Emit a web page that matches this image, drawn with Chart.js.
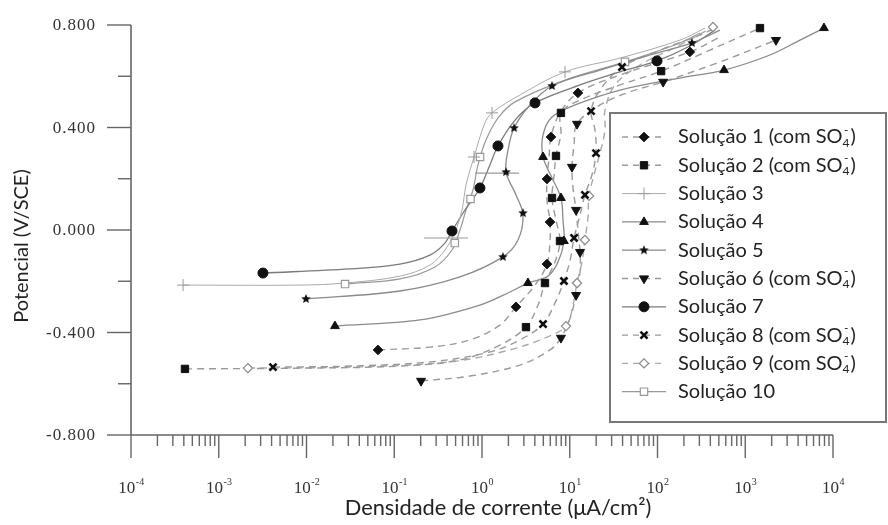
<!DOCTYPE html>
<html>
<head>
<meta charset="utf-8">
<script src="https://cdn.jsdelivr.net/npm/chart.js@4.4.1/dist/chart.umd.min.js"></script>
<style>
  html, body { margin: 0; padding: 0; background: #fff; }
  #wrap { width: 888px; height: 525px; }
</style>
</head>
<body>
<div id="wrap"><canvas id="chart" width="888" height="525"></canvas></div>
<script>
// ------------------------------------------------------------
//  Data  (current density in uA/cm2, potential in V/SCE)
// ------------------------------------------------------------
var X_MIN = 1e-4, X_MAX = 1e4;
var Y_MIN = -0.8, Y_MAX = 0.8;
var yMajorTicks = [0.8, 0.4, 0, -0.4, -0.8];
var yMinorTicks = [0.6, 0.2, -0.2, -0.6];
var xDecades = [-4, -3, -2, -1, 0, 1, 2, 3, 4];

var legendNames = ['Solução 1', 'Solução 2', 'Solução 3', 'Solução 4', 'Solução 5',
                   'Solução 6', 'Solução 7', 'Solução 8', 'Solução 9', 'Solução 10'];
var legendSO4 = [true, true, false, false, false, true, false, true, true, false];

var sol1 = [[0.0653,-0.468],[0.255,-0.457],[0.729,-0.429],[1.60,-0.371],[2.44,-0.300],[4.02,-0.215],
            [5.50,-0.133],[5.96,-0.039],[5.96,0.031],[5.50,0.117],[5.50,0.199],[5.80,0.281],[6.11,0.363],
            [7.74,0.457],[12.4,0.535],[37.4,0.605],[234,0.695],[489,0.749]];
var sol1Marks = [[0.0653,-0.468],[2.44,-0.300],[5.50,-0.133],[5.96,0.031],[5.50,0.199],[6.11,0.363],
                 [12.4,0.535],[234,0.695]];

var sol2 = [[4.12e-4,-0.542],[8.4e-3,-0.539],[0.116,-0.531],[0.561,-0.507],[1.60,-0.449],[3.17,-0.379],
            [4.35,-0.293],[5.22,-0.207],[6.79,-0.125],[7.74,-0.043],[6.97,0.039],[6.28,0.125],[6.62,0.211],
            [6.97,0.289],[7.94,0.375],[7.94,0.457],[13.1,0.507],[37.4,0.566],[110,0.620],[396,0.702],[1472,0.788]];
var sol2Marks = [[4.12e-4,-0.542],[3.17,-0.379],[5.22,-0.207],[7.74,-0.043],[6.28,0.125],[6.97,0.289],
                 [7.94,0.457],[110,0.620],[1472,0.788]];

var sol3 = [[3.92e-4,-0.215],[8.4e-3,-0.215],[0.0275,-0.207],[0.116,-0.180],[0.255,-0.137],[0.378,-0.078],
            [0.492,-0.008],[0.592,0.078],[0.658,0.176],[0.811,0.285],[1.08,0.418],[1.30,0.457],[2.71,0.527],
            [8.83,0.617],[37.4,0.671],[180,0.741],[348,0.788]];
var sol3Marks = [[3.92e-4,-0.215],[0.811,0.285],[1.30,0.457],[8.83,0.617]];
var sol3Bars = [[0.389,-0.031],[1.48,0.222]];

var sol4 = [[0.0211,-0.375],[0.196,-0.351],[0.948,-0.293],[2.08,-0.242],[3.34,-0.207],[5.65,-0.180],
            [7.35,-0.125],[8.59,-0.043],[8.37,0.039],[7.94,0.125],[6.28,0.203],[4.96,0.285],[4.96,0.371],
            [6.28,0.441],[11.5,0.488],[37.4,0.546],[180,0.593],[573,0.624],[1914,0.683],[4207,0.741],[7890,0.788]];
var sol4Marks = [[0.0211,-0.375],[3.34,-0.207],[8.59,-0.043],[7.94,0.125],[4.96,0.285],[573,0.624],[7890,0.788]];

var sol5 = [[9.86e-3,-0.269],[0.116,-0.238],[0.561,-0.183],[1.73,-0.105],[2.57,-0.039],[2.93,0.059],
            [2.44,0.137],[1.88,0.226],[1.98,0.312],[2.32,0.398],[3.52,0.488],[6.28,0.562],[22.1,0.624],
            [82.2,0.683],[247,0.730],[515,0.780]];
var sol5Marks = [[9.86e-3,-0.269],[1.73,-0.105],[2.93,0.066],[1.88,0.226],[2.32,0.398],[6.28,0.562],[247,0.730]];

var sol6 = [[0.202,-0.589],[0.729,-0.570],[2.71,-0.527],[5.96,-0.468],[7.94,-0.421],[10.1,-0.343],
            [11.8,-0.254],[13.1,-0.164],[13.1,-0.086],[12.4,0.000],[11.8,0.078],[10.9,0.164],[10.6,0.246],
            [11.2,0.332],[12.1,0.414],[22.1,0.488],[48.6,0.539],[116,0.578],[515,0.656],[2240,0.741]];
var sol6Marks = [[0.202,-0.589],[7.94,-0.421],[11.8,-0.254],[13.1,-0.086],[11.8,0.078],[10.6,0.246],
                 [12.1,0.414],[116,0.578],[2240,0.741]];

var sol7 = [[3.19e-3,-0.168],[0.0313,-0.152],[0.116,-0.133],[0.255,-0.098],[0.378,-0.051],[0.455,-0.004],
            [0.640,0.078],[0.948,0.164],[1.23,0.254],[1.52,0.328],[2.38,0.429],[4.02,0.496],[13.1,0.566],
            [37.4,0.617],[98.6,0.660],[234,0.718],[452,0.780]];
var sol7Marks = [[3.19e-3,-0.168],[0.455,-0.004],[0.948,0.164],[1.52,0.328],[4.02,0.496],[98.6,0.660]];

var sol8 = [[4.15e-3,-0.535],[0.0313,-0.531],[0.255,-0.515],[1.23,-0.476],[2.71,-0.429],[4.96,-0.367],
            [6.79,-0.285],[8.59,-0.199],[10.1,-0.117],[11.2,-0.031],[13.1,0.059],[14.9,0.137],[17.9,0.215],
            [19.9,0.300],[19.4,0.390],[17.5,0.464],[22.1,0.546],[39.4,0.636],[107,0.702],[305,0.761],[452,0.788]];
var sol8Marks = [[4.15e-3,-0.535],[4.96,-0.367],[8.59,-0.199],[11.2,-0.031],[14.9,0.137],[19.9,0.300],
                 [17.5,0.464],[39.4,0.636]];

var sol9 = [[2.15e-3,-0.539],[0.0313,-0.535],[0.431,-0.515],[2.08,-0.468],[5.22,-0.421],[9.06,-0.375],
            [10.9,-0.293],[12.1,-0.207],[13.8,-0.125],[14.9,-0.039],[16.1,0.047],[16.6,0.133],[18.9,0.215],
            [22.1,0.300],[25.2,0.390],[25.2,0.468],[32.8,0.566],[63.2,0.644],[180,0.722],[429,0.792]];
var sol9Marks = [[2.15e-3,-0.539],[9.06,-0.375],[12.1,-0.207],[14.9,-0.039],[16.6,0.133],[429,0.792]];

var sol10 = [[0.0275,-0.211],[0.116,-0.191],[0.291,-0.144],[0.455,-0.078],[0.561,0.000],[0.658,0.078],
             [0.789,0.156],[0.900,0.254],[1.11,0.351],[1.52,0.437],[2.38,0.500],[8.83,0.585],[42.6,0.656],
             [180,0.730],[305,0.769]];
var sol10Marks = [[0.0275,-0.211],[0.49,-0.051],[0.74,0.121],[0.95,0.285],[42.6,0.656]];

// ------------------------------------------------------------
//  Look
// ------------------------------------------------------------
var AXIS_COLOR = '#666';
var TEXT_COLOR = '#333';
var SERIF = "'Liberation Serif', 'DejaVu Serif', serif";
var SANS  = "Lato, 'Open Sans', sans-serif";

function makeStar(r) {
  var s = Math.ceil(r * 2) + 2;
  var c = document.createElement('canvas');
  c.width = s; c.height = s;
  var g = c.getContext('2d');
  g.fillStyle = '#111';
  g.beginPath();
  for (var i = 0; i < 10; i++) {
    var ang = -Math.PI / 2 + i * Math.PI / 5;
    var rr = (i % 2) ? r * 0.45 : r;
    g.lineTo(s / 2 + rr * Math.cos(ang), s / 2 + rr * Math.sin(ang));
  }
  g.closePath();
  g.fill();
  return c;
}
var STAR = makeStar(5);

var DASHED = [7, 5];
// one entry per solution: curve, markers, look
var SERIES = [
  { line: sol1,  marks: sol1Marks,  dash: DASHED, lc: '#9a9a9a', lw: 1.4, ps: 'rectRot',  r: 4.8, fill: '#111', stroke: '#111', bw: 1 },
  { line: sol2,  marks: sol2Marks,  dash: DASHED, lc: '#9a9a9a', lw: 1.4, ps: 'rect',     r: 5.2, fill: '#111', stroke: '#111', bw: 1 },
  { line: sol3,  marks: sol3Marks,  dash: [],     lc: '#aaaaaa', lw: 1.0, ps: 'cross',    r: 6,   fill: '#999', stroke: '#999', bw: 1 },
  { line: sol4,  marks: sol4Marks,  dash: [],     lc: '#8a8a8a', lw: 1.3, ps: 'triangle', r: 5,   fill: '#111', stroke: '#111', bw: 1 },
  { line: sol5,  marks: sol5Marks,  dash: [],     lc: '#8a8a8a', lw: 1.3, ps: STAR,       r: 5,   fill: '#111', stroke: '#111', bw: 0 },
  { line: sol6,  marks: sol6Marks,  dash: DASHED, lc: '#9a9a9a', lw: 1.4, ps: 'triangle', r: 5.2, fill: '#111', stroke: '#111', bw: 1, rot: 180 },
  { line: sol7,  marks: sol7Marks,  dash: [],     lc: '#7a7a7a', lw: 1.3, ps: 'circle',   r: 5,   fill: '#111', stroke: '#111', bw: 1 },
  { line: sol8,  marks: sol8Marks,  dash: DASHED, lc: '#9a9a9a', lw: 1.4, ps: 'crossRot', r: 5,   fill: '#111', stroke: '#111', bw: 2.6 },
  { line: sol9,  marks: sol9Marks,  dash: DASHED, lc: '#aaaaaa', lw: 1.4, ps: 'rectRot',  r: 4.6, fill: '#fff', stroke: '#888', bw: 1.2 },
  { line: sol10, marks: sol10Marks, dash: [],     lc: '#999999', lw: 1.2, ps: 'rect',     r: 5.2, fill: '#fff', stroke: '#999', bw: 1.2 }
];

function toXY(arr) { return arr.map(function (p) { return { x: p[0], y: p[1] }; }); }

var datasets = [];
SERIES.forEach(function (s) {
  datasets.push({
    data: toXY(s.line), showLine: true, borderColor: s.lc, borderWidth: s.lw, borderDash: s.dash,
    pointRadius: 0, tension: 0.35, fill: false, clip: false, order: 2
  });
  datasets.push({
    data: toXY(s.marks), showLine: false, pointStyle: s.ps, pointRadius: s.r, pointRotation: s.rot || 0,
    pointBackgroundColor: s.fill, pointBorderColor: s.stroke, pointBorderWidth: s.bw, clip: false, order: 0
  });
});
// the two long horizontal strokes on the Solução 3 curve
datasets.push({
  data: toXY(sol3Bars), showLine: false, pointStyle: 'line', pointRadius: 22,
  pointBorderColor: '#999', pointBorderWidth: 1.1, clip: false, order: 1
});

// ------------------------------------------------------------
//  Axes, labels and legend drawn with the chart's scales
// ------------------------------------------------------------
var paperPlugin = {
  id: 'paper',
  beforeDatasetsDraw: function (chart) {
    var ctx = chart.ctx, xs = chart.scales.x, ys = chart.scales.y, a = chart.chartArea;
    ctx.save();
    ctx.strokeStyle = AXIS_COLOR;
    ctx.lineWidth = 1.6;
    ctx.beginPath();
    ctx.moveTo(a.left, a.top); ctx.lineTo(a.left, a.bottom); ctx.lineTo(a.right, a.bottom);
    ctx.stroke();

    // y ticks
    ctx.lineWidth = 1.4;
    yMajorTicks.forEach(function (v) {
      var y = ys.getPixelForValue(v);
      ctx.beginPath(); ctx.moveTo(a.left - 24, y); ctx.lineTo(a.left, y); ctx.stroke();
    });
    yMinorTicks.forEach(function (v) {
      var y = ys.getPixelForValue(v);
      ctx.beginPath(); ctx.moveTo(a.left - 13, y); ctx.lineTo(a.left, y); ctx.stroke();
    });
    ctx.fillStyle = TEXT_COLOR;
    ctx.font = '17px ' + SERIF;
    ctx.letterSpacing = '1px';
    ctx.textAlign = 'right';
    ctx.textBaseline = 'middle';
    yMajorTicks.forEach(function (v) {
      ctx.fillText(v.toFixed(3), a.left - 35, ys.getPixelForValue(v) + 1);
    });
    ctx.letterSpacing = '0px';

    // x ticks (log decades with minor ticks)
    xDecades.forEach(function (d) {
      var base = Math.pow(10, d);
      var x = xs.getPixelForValue(base);
      ctx.beginPath(); ctx.moveTo(x, a.bottom); ctx.lineTo(x, a.bottom + 23); ctx.stroke();
      if (d < xDecades[xDecades.length - 1]) {
        for (var k = 2; k <= 9; k++) {
          var xm = xs.getPixelForValue(k * base);
          ctx.beginPath(); ctx.moveTo(xm, a.bottom); ctx.lineTo(xm, a.bottom + 11); ctx.stroke();
        }
      }
      ctx.textAlign = 'left';
      ctx.textBaseline = 'alphabetic';
      ctx.font = '17px ' + SERIF;
      var w10 = ctx.measureText('10').width;
      var exp = String(d);
      ctx.font = '10px ' + SERIF;
      var we = ctx.measureText(exp).width;
      var x0 = x - (w10 + we) / 2;
      ctx.font = '17px ' + SERIF;
      ctx.fillText('10', x0, a.bottom + 58);
      ctx.font = '10px ' + SERIF;
      ctx.fillText(exp, x0 + w10 + 0.5, a.bottom + 50);
    });

    // axis titles
    ctx.fillStyle = '#222';
    ctx.font = '21.8px ' + SANS;
    ctx.textAlign = 'center';
    ctx.textBaseline = 'middle';
    ctx.fillText('Densidade de corrente (\u03bcA/cm\u00b2)', 498, 508);
    ctx.save();
    ctx.translate(22, 246);
    ctx.rotate(-Math.PI / 2);
    ctx.font = '20px ' + SANS;
    ctx.fillText('Potencial (V/SCE)', 0, 0);
    ctx.restore();
    ctx.restore();
  },
  afterDraw: function (chart) {
    var ctx = chart.ctx;
    ctx.save();
    ctx.fillStyle = '#fff';
    ctx.fillRect(610, 113, 276, 309);
    ctx.strokeStyle = '#777';
    ctx.lineWidth = 2;
    ctx.strokeRect(610, 113, 276, 309);

    SERIES.forEach(function (s, i) {
      var y = 137 + i * 28.3;
      ctx.strokeStyle = s.lc;
      ctx.lineWidth = s.lw;
      ctx.setLineDash(s.dash.length ? [6, 5] : []);
      ctx.beginPath(); ctx.moveTo(622, y); ctx.lineTo(666, y); ctx.stroke();
      ctx.setLineDash([]);
      ctx.fillStyle = s.fill;
      ctx.strokeStyle = s.stroke;
      ctx.lineWidth = s.bw;
      Chart.helpers.drawPoint(ctx, { pointStyle: s.ps, radius: s.r, rotation: s.rot || 0, borderWidth: s.bw }, 644, y);

      ctx.fillStyle = '#222';
      ctx.font = '20px ' + SANS;
      ctx.textAlign = 'left';
      ctx.textBaseline = 'middle';
      var tx = 678;
      var txt = legendNames[i] + (legendSO4[i] ? ' (com SO' : '');
      ctx.fillText(txt, tx, y);
      if (legendSO4[i]) {
        tx += ctx.measureText(txt).width;
        ctx.font = '12px ' + SANS;
        ctx.fillText('4', tx, y + 6);
        ctx.fillText('-', tx + 1.5, y - 7);
        tx += ctx.measureText('4').width + 1;
        ctx.font = '20px ' + SANS;
        ctx.fillText(')', tx, y);
      }
    });
    ctx.restore();
  }
};

new Chart(document.getElementById('chart'), {
  type: 'scatter',
  data: { datasets: datasets },
  options: {
    responsive: false,
    animation: false,
    devicePixelRatio: 1,
    layout: { padding: { top: 25, right: 55, left: 0, bottom: 0 } },
    plugins: { legend: { display: false }, tooltip: { enabled: false } },
    scales: {
      x: {
        type: 'logarithmic', min: X_MIN, max: X_MAX,
        grid: { display: false }, border: { display: false }, ticks: { display: false },
        afterFit: function (s) { s.height = 90; }
      },
      y: {
        type: 'linear', min: Y_MIN, max: Y_MAX,
        grid: { display: false }, border: { display: false }, ticks: { display: false },
        afterFit: function (s) { s.width = 131; }
      }
    }
  },
  plugins: [paperPlugin]
});
</script>
</body>
</html>
